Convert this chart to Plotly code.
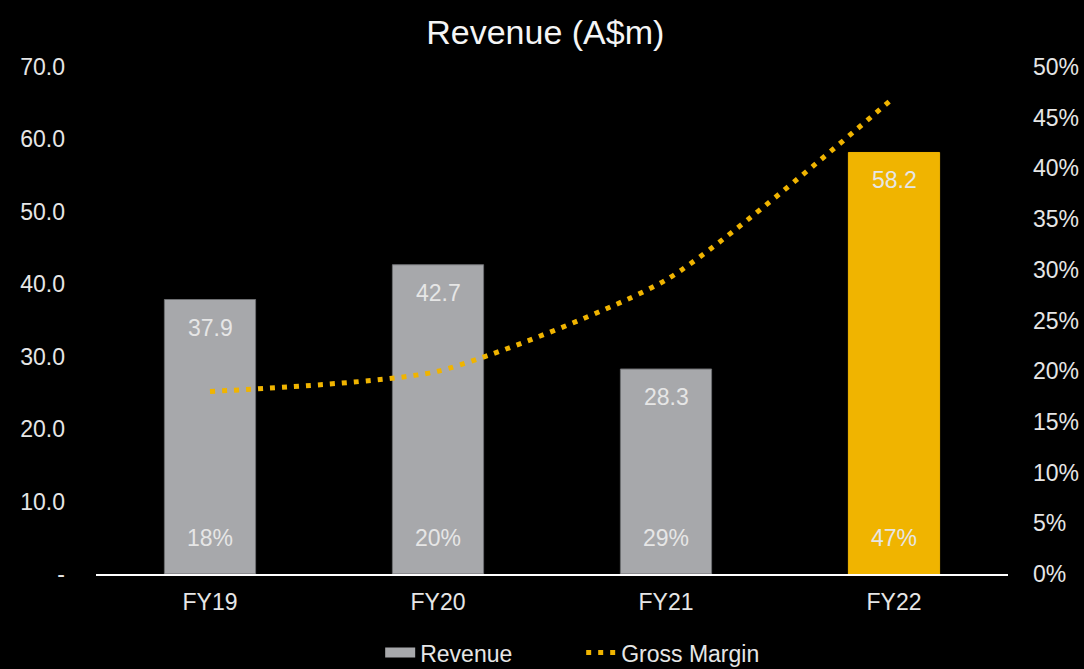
import plotly.graph_objects as go

categories = ["FY19", "FY20", "FY21", "FY22"]
revenue = [37.9, 42.7, 28.3, 58.2]
gross_margin = [0.18, 0.20, 0.29, 0.47]
margin_labels = ["18%", "20%", "29%", "47%"]
bar_colors = ["#a7a8ab", "#a7a8ab", "#a7a8ab", "#f0b400"]
line_colors = ["#6e6f72", "#6e6f72", "#6e6f72", "#f0b400"]

left_ticks = [0, 10, 20, 30, 40, 50, 60, 70]
left_ticktext = ["-", "10.0", "20.0", "30.0", "40.0", "50.0", "60.0", "70.0"]
right_ticks = [0, 0.05, 0.10, 0.15, 0.20, 0.25, 0.30, 0.35, 0.40, 0.45, 0.50]

FONT = "Liberation Sans, Arial, sans-serif"
TXT = "#e6e6e6"
FS = 23

fig = go.Figure()
fig.add_trace(go.Bar(
    x=categories, y=revenue, name="Revenue", showlegend=False,
    marker=dict(color=bar_colors, line=dict(color=line_colors, width=1)),
    yaxis="y", hoverinfo="skip",
))
# legend-only entry drawn as a wide grey block
fig.add_trace(go.Scatter(
    x=[categories[0]], y=[None], name="Revenue", mode="lines",
    line=dict(color="#a7a8ab", width=13), hoverinfo="skip", legendrank=1,
))
fig.add_trace(go.Scatter(
    x=categories, y=gross_margin, name="Gross Margin", mode="lines",
    line=dict(color="#f0b400", width=5, dash="5px,7px", shape="spline", smoothing=0.6),
    yaxis="y2", legendrank=2,
))

annotations = []
for c, v, m in zip(categories, revenue, margin_labels):
    annotations.append(dict(x=c, y=v, xref="x", yref="y", text=f"{v:.1f}",
                            showarrow=False, yshift=-28,
                            font=dict(family=FONT, size=FS, color=TXT)))
    annotations.append(dict(x=c, y=0, xref="x", yref="y", text=m,
                            showarrow=False, yshift=36,
                            font=dict(family=FONT, size=FS, color=TXT)))

fig.update_layout(
    width=1084, height=669,
    paper_bgcolor="black", plot_bgcolor="black",
    margin=dict(l=96, r=76, t=67, b=95, autoexpand=False),
    font=dict(family=FONT, size=FS, color=TXT),
    title=dict(text="Revenue (A$m)", x=0.503, xanchor="center", y=0.952, yanchor="middle",
               font=dict(family=FONT, size=34, color="#f5f5f5")),
    bargap=0.6,
    showlegend=True,
    legend=dict(orientation="h", x=0.532, xanchor="center", y=-0.155, yanchor="middle",
                font=dict(family=FONT, size=FS, color=TXT), bgcolor="rgba(0,0,0,0)",
                entrywidth=156, entrywidthmode="pixels"),
    xaxis=dict(type="category", categoryorder="array", categoryarray=categories,
               showgrid=False, showline=True, linecolor="#ffffff", linewidth=2,
               ticks="", tickfont=dict(family=FONT, size=FS, color=TXT), zeroline=False,
               ticklabelstandoff=6),
    yaxis=dict(range=[0, 70], tickvals=left_ticks, ticktext=left_ticktext,
               showgrid=False, zeroline=False, showline=False, ticks="",
               tickfont=dict(family=FONT, size=FS, color=TXT), ticklabelstandoff=30),
    yaxis2=dict(range=[0, 0.5], tickvals=right_ticks, tickformat=".0%",
                overlaying="y", side="right", showgrid=False, zeroline=False,
                showline=False, ticks="", tickfont=dict(family=FONT, size=FS, color=TXT),
                ticklabelstandoff=24),
    annotations=annotations,
)

fig.write_html("out.html", config={"displayModeBar": False},
               post_script="document.body.style.margin='0';document.body.style.background='black';")
